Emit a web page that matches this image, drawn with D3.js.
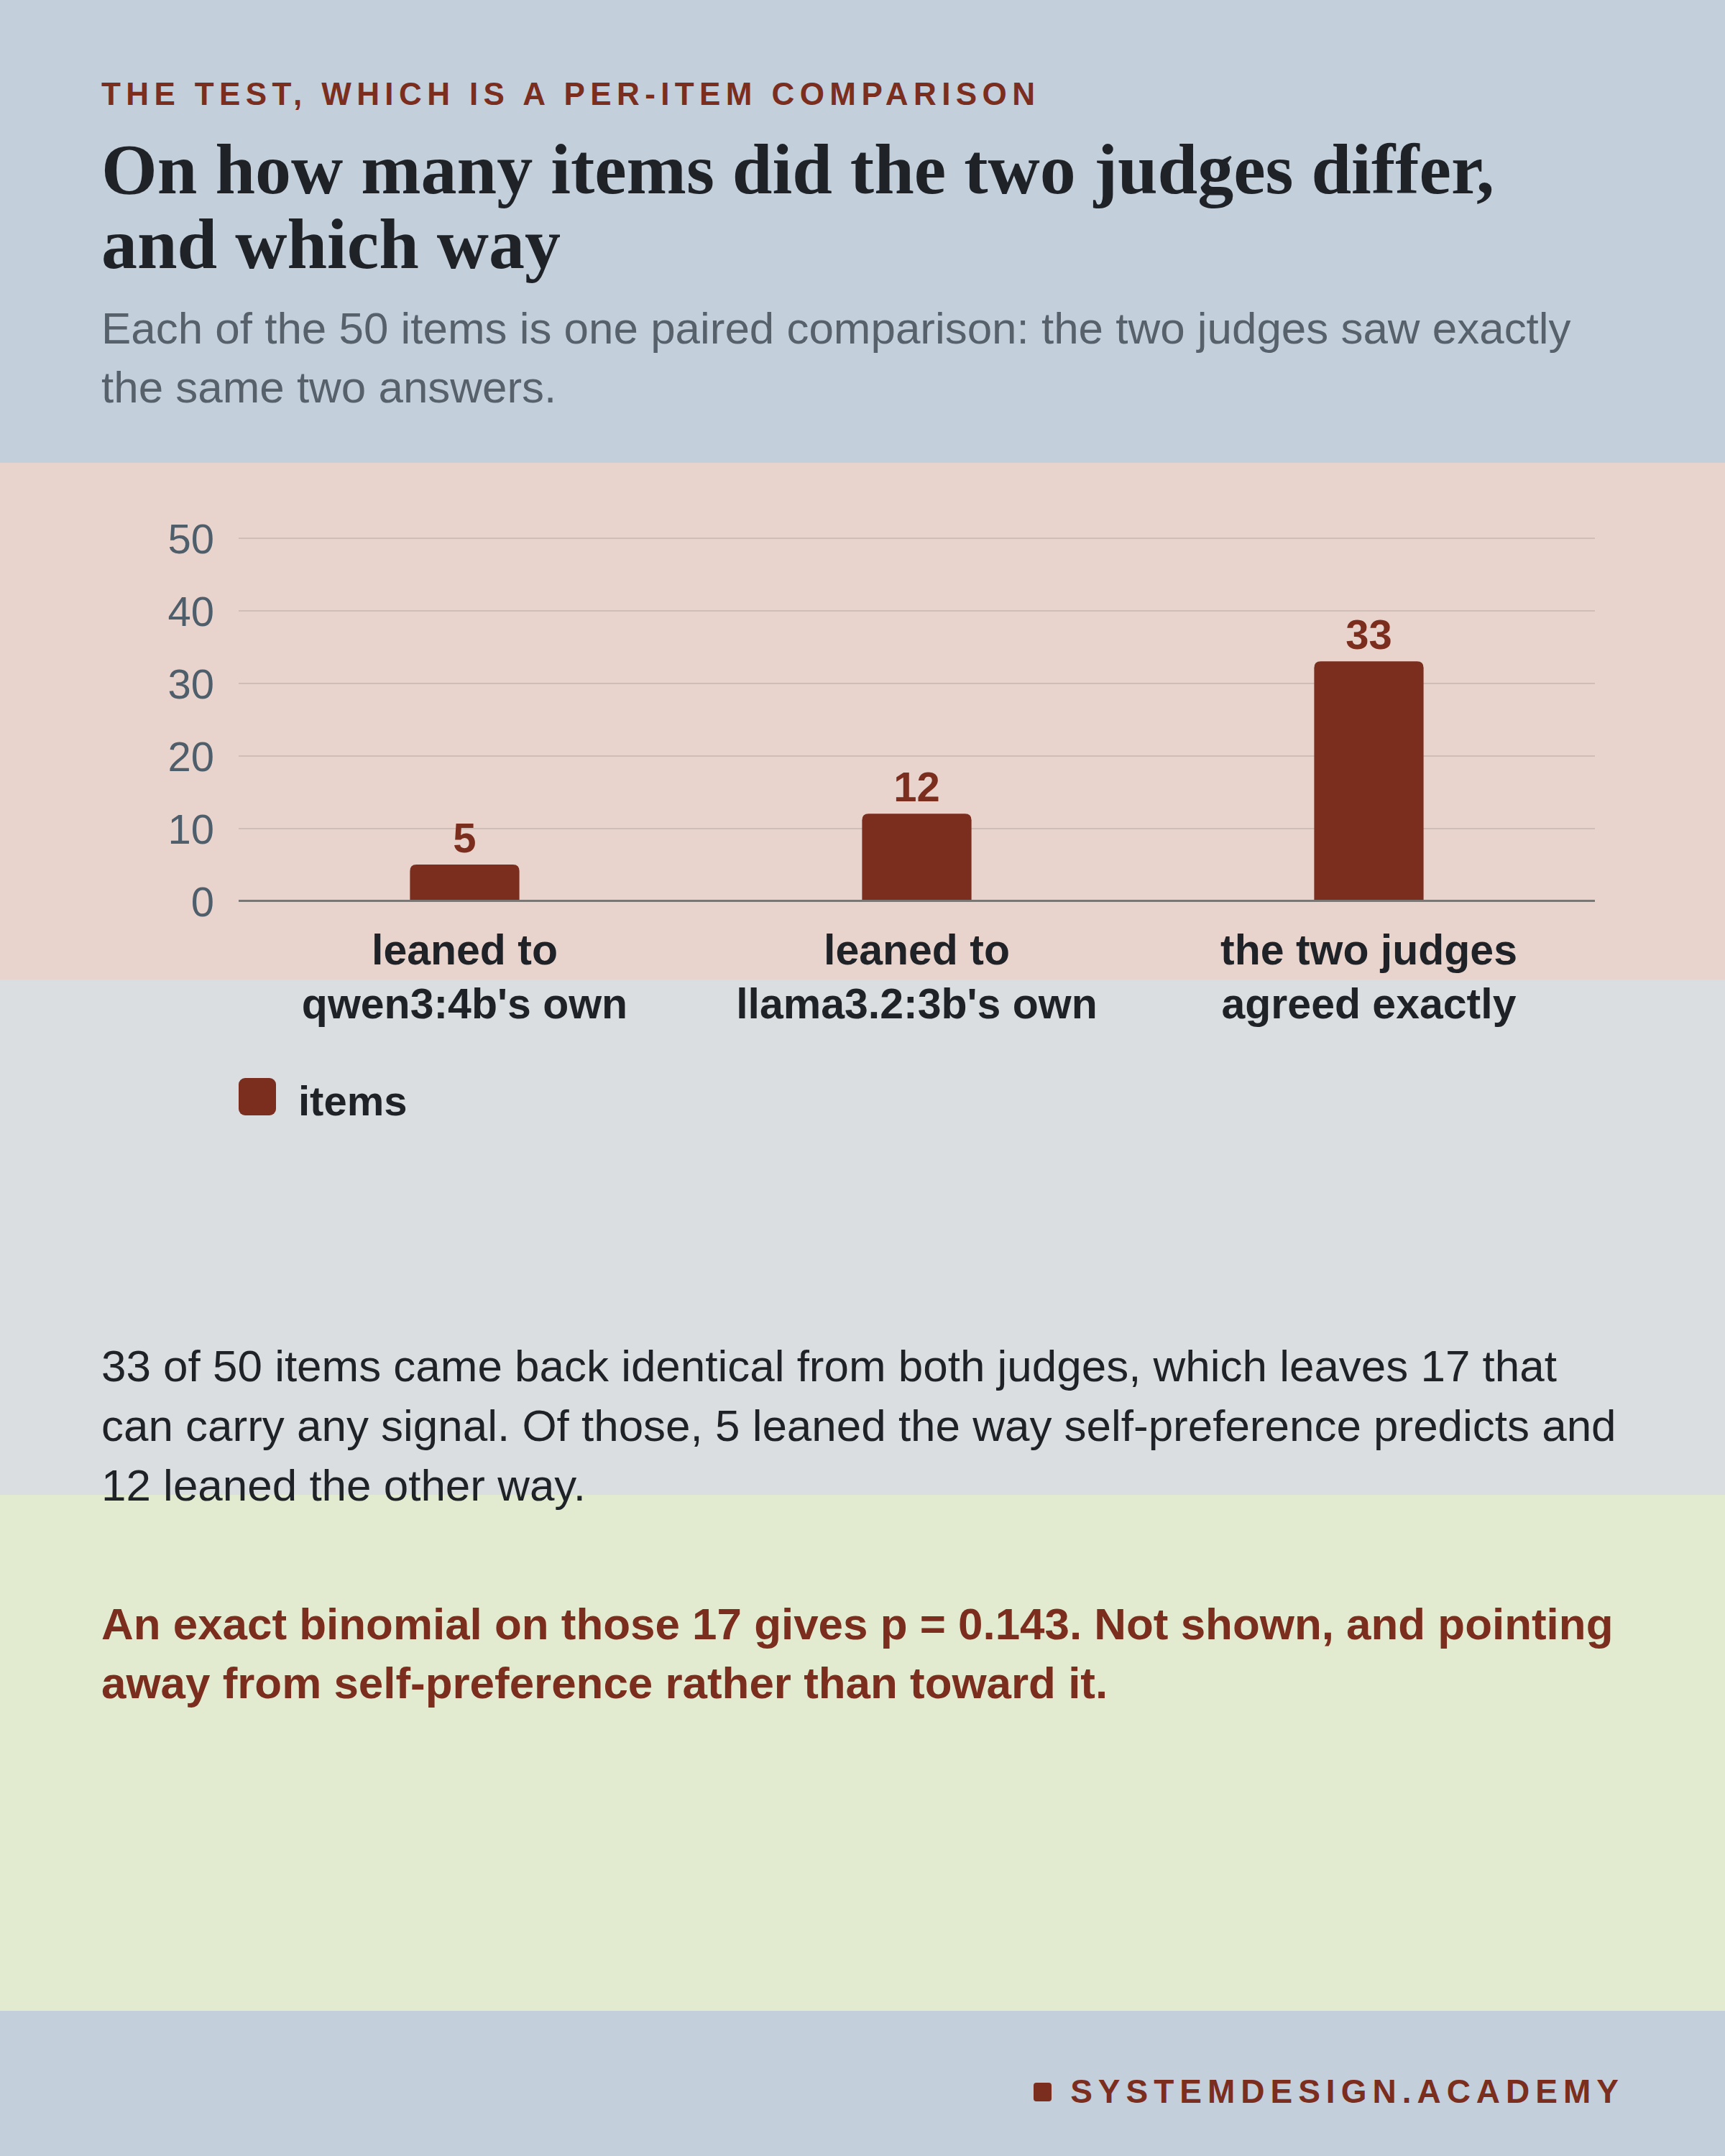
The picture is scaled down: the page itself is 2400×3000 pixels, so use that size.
<!DOCTYPE html>
<html>
<head>
<meta charset="utf-8">
<script src="https://cdn.jsdelivr.net/npm/d3@7"></script>
<style>
  html, body { margin: 0; padding: 0; background: #c3cfdb; }
  svg { display: block; }
</style>
</head>
<body>
<svg id="chart" width="2400" height="3000"></svg>
<script>
// ---- data ----
const categories = [
  ["leaned to", "qwen3:4b's own"],
  ["leaned to", "llama3.2:3b's own"],
  ["the two judges", "agreed exactly"]
];
const categoryKeys = ["qwen", "llama", "agreed"];
const itemCounts = [5, 12, 33];
const seriesName = "items";
const yTicks = [0, 10, 20, 30, 40, 50];
const yMax = 50;

const eyebrow = "THE TEST, WHICH IS A PER-ITEM COMPARISON";
const titleLines = ["On how many items did the two judges differ,", "and which way"];
const subtitleLines = [
  "Each of the 50 items is one paired comparison: the two judges saw exactly",
  "the same two answers."
];
const bodyLines = [
  "33 of 50 items came back identical from both judges, which leaves 17 that",
  "can carry any signal. Of those, 5 leaned the way self-preference predicts and",
  "12 leaned the other way."
];
const calloutLines = [
  "An exact binomial on those 17 gives p = 0.143. Not shown, and pointing",
  "away from self-preference rather than toward it."
];
const footerText = "SYSTEMDESIGN.ACADEMY";

// ---- styles ----
const C = {
  blue: "#c3cfdb", pink: "#e9d3cd", gray: "#dadee1", green: "#e2eacf",
  brick: "#7b2d1e", ink: "#1f2328", muted: "#56616c", axis: "#4f5e6b",
  grid: "#cfbdb7", base: "#7a7674"
};
const SANS = "'Liberation Sans', Arial, Helvetica, sans-serif";
const SERIF = "'Liberation Serif', 'Times New Roman', serif";
const L = 141;

const svg = d3.select("#chart");

// fit a group of text lines so that the first line has the target width
function fitWidth(sel, target, base) {
  const w = sel.node().getComputedTextLength();
  sel.attr("font-size", base * target / w);
}

// background bands
svg.append("rect").attr("x", 0).attr("y", 0).attr("width", 2400).attr("height", 644).attr("fill", C.blue);
svg.append("rect").attr("x", 0).attr("y", 644).attr("width", 2400).attr("height", 719).attr("fill", C.pink);
svg.append("rect").attr("x", 0).attr("y", 1363).attr("width", 2400).attr("height", 717).attr("fill", C.gray);
svg.append("rect").attr("x", 0).attr("y", 2080).attr("width", 2400).attr("height", 718).attr("fill", C.green);
svg.append("rect").attr("x", 0).attr("y", 2798).attr("width", 2400).attr("height", 202).attr("fill", C.blue);

// eyebrow
svg.append("text").attr("x", L).attr("y", 146)
  .attr("font-family", SANS).attr("font-weight", 700).attr("font-size", 44)
  .attr("letter-spacing", 7.4).attr("fill", C.brick).text(eyebrow);

// title (fit to measured width)
const title = svg.append("g");
titleLines.forEach((t, i) => {
  title.append("text").attr("x", L).attr("y", 269 + i * 104)
    .attr("font-family", SERIF).attr("font-weight", 700).attr("font-size", 90)
    .attr("fill", C.ink).text(t);
});
{
  const first = title.select("text").node();
  const w = first.getComputedTextLength();
  const fs = 90 * 1948 / w;
  title.selectAll("text").attr("font-size", Math.min(fs, 100));
}

// subtitle
const sub = svg.append("g");
subtitleLines.forEach((t, i) => {
  sub.append("text").attr("x", L).attr("y", 478 + i * 82)
    .attr("font-family", SANS).attr("font-size", 62).attr("fill", C.muted).text(t);
});
{
  const w = sub.select("text").node().getComputedTextLength();
  sub.selectAll("text").attr("font-size", Math.min(66, 62 * 2045 / w));
}

// ---- chart ----
const plot = { left: 332, right: 2219, top: 748.5, bottom: 1253.5 };
const x = d3.scaleBand().domain(categoryKeys).range([plot.left, plot.right]).padding(0);
const y = d3.scaleLinear().domain([0, yMax]).range([plot.bottom, plot.top]);
const barFrac = 0.242;
const bw = x.bandwidth() * barFrac;

const yAxis = svg.append("g").attr("transform", `translate(${plot.left},0)`)
  .call(d3.axisLeft(y).tickValues(yTicks).tickSize(-(plot.right - plot.left)).tickPadding(34));
yAxis.select(".domain").remove();
yAxis.selectAll(".tick line").attr("stroke", C.grid).attr("stroke-width", 2);
yAxis.selectAll(".tick text").attr("font-family", SANS).attr("font-size", 58)
  .attr("fill", C.axis).attr("dy", "0.36em");
yAxis.selectAll(".tick").filter(d => d === 0).select("line").remove();

// bars with rounded top corners
const r = 9;
const barPath = (x0, y0, w, h) => {
  const rr = Math.min(r, h, w / 2);
  return `M${x0},${y0 + h}V${y0 + rr}Q${x0},${y0} ${x0 + rr},${y0}H${x0 + w - rr}Q${x0 + w},${y0} ${x0 + w},${y0 + rr}V${y0 + h}Z`;
};
svg.append("g").selectAll("path").data(itemCounts).join("path")
  .attr("d", (d, i) => {
    const cx = x(categoryKeys[i]) + x.bandwidth() / 2;
    return barPath(cx - bw / 2, y(d), bw, y(0) - y(d));
  })
  .attr("fill", C.brick);

// value labels
svg.append("g").selectAll("text").data(itemCounts).join("text")
  .attr("x", (d, i) => x(categoryKeys[i]) + x.bandwidth() / 2)
  .attr("y", d => y(d) - 17)
  .attr("text-anchor", "middle").attr("font-family", SANS).attr("font-weight", 700)
  .attr("font-size", 58).attr("fill", C.brick).text(d => d);

// baseline
svg.append("line").attr("x1", plot.left).attr("x2", plot.right)
  .attr("y1", y(0)).attr("y2", y(0)).attr("stroke", C.base).attr("stroke-width", 3);

// category labels
const catG = svg.append("g");
categories.forEach((lines, i) => {
  const cx = x(categoryKeys[i]) + x.bandwidth() / 2;
  lines.forEach((t, j) => {
    catG.append("text").attr("x", cx).attr("y", 1342 + j * 75)
      .attr("text-anchor", "middle").attr("font-family", SANS).attr("font-weight", 700)
      .attr("font-size", 59).attr("fill", C.ink).text(t);
  });
});

// legend
svg.append("rect").attr("x", 332).attr("y", 1500).attr("width", 52).attr("height", 52)
  .attr("rx", 9).attr("fill", C.brick);
svg.append("text").attr("x", 415).attr("y", 1552)
  .attr("font-family", SANS).attr("font-weight", 700).attr("font-size", 58)
  .attr("fill", C.ink).text(seriesName);

// body text
const body = svg.append("g");
bodyLines.forEach((t, i) => {
  body.append("text").attr("x", L).attr("y", 1922 + i * 83)
    .attr("font-family", SANS).attr("font-size", 62).attr("fill", C.ink).text(t);
});
{
  const w = body.selectAll("text").nodes()[1].getComputedTextLength();
  body.selectAll("text").attr("font-size", Math.min(66, 62 * 2108 / w));
}

// callout
const call = svg.append("g");
calloutLines.forEach((t, i) => {
  call.append("text").attr("x", L).attr("y", 2281 + i * 82)
    .attr("font-family", SANS).attr("font-weight", 700).attr("font-size", 62)
    .attr("fill", C.brick).text(t);
});
{
  const w = call.select("text").node().getComputedTextLength();
  call.selectAll("text").attr("font-size", Math.min(66, 62 * 2104 / w));
}

// footer
svg.append("text").attr("x", 2260).attr("y", 2926).attr("text-anchor", "end")
  .attr("font-family", SANS).attr("font-weight", 700).attr("font-size", 46)
  .attr("letter-spacing", 8).attr("fill", C.brick).text(footerText);
svg.append("rect").attr("x", 1438).attr("y", 2898).attr("width", 25).attr("height", 26)
  .attr("rx", 4).attr("fill", C.brick);
</script>
</body>
</html>
